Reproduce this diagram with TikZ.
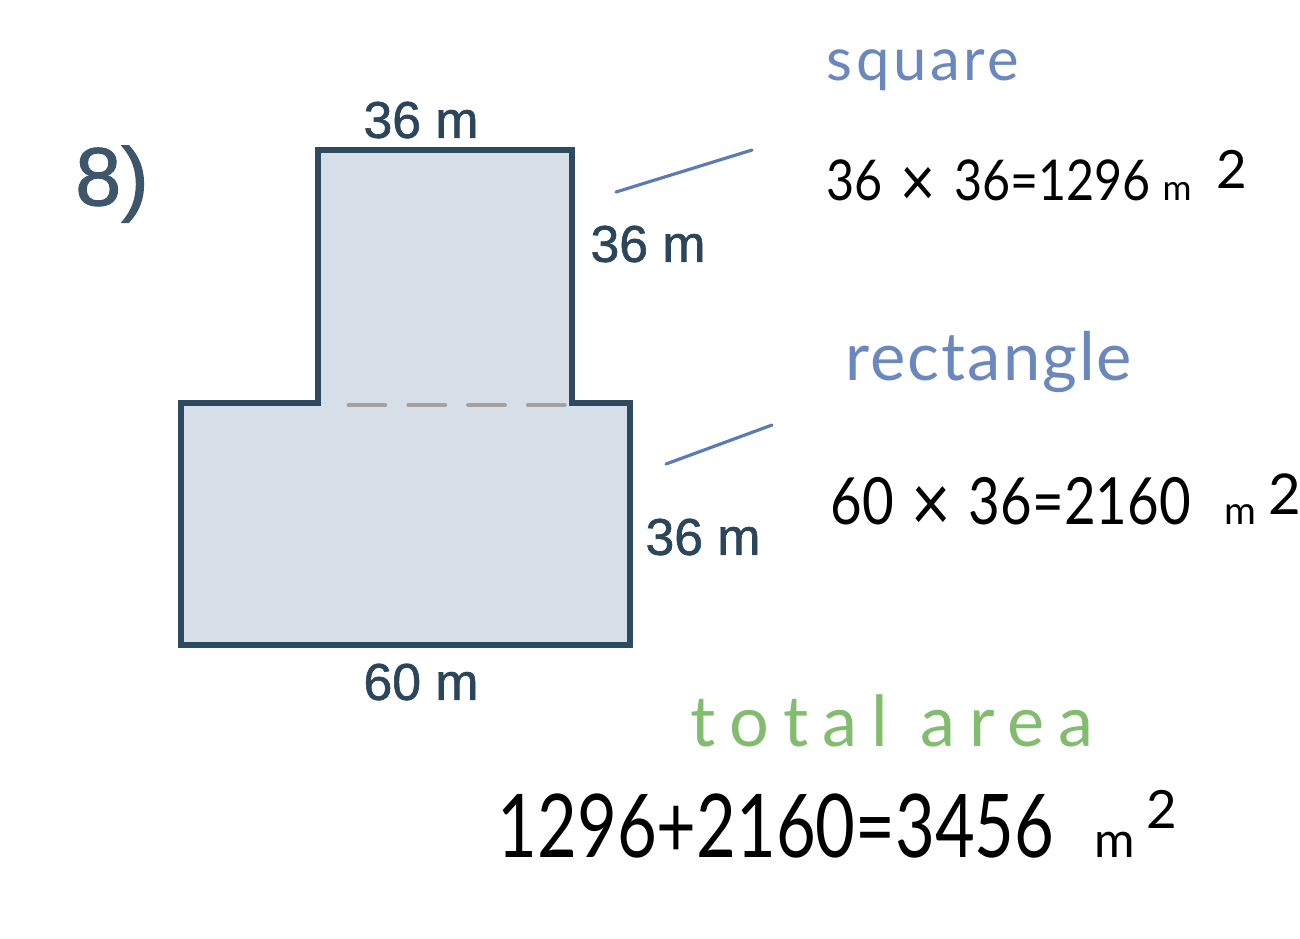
\documentclass[tikz,border=0pt]{standalone}
\usepackage{fontspec}
\setmainfont{Liberation Sans}
\newfontfamily\dimfont[FakeBold=1.2]{Liberation Sans}
\newfontfamily\hand{Lato}
\definecolor{outline}{HTML}{2E4A60}
\definecolor{shapefill}{HTML}{D6DFE7}
\definecolor{dashgray}{HTML}{A8A09E}
\definecolor{labelc}{HTML}{2B455A}
\definecolor{numc}{HTML}{3D566B}
\definecolor{pointer}{HTML}{5B7BB5}
\definecolor{bluetext}{HTML}{6B88BE}
\definecolor{greentext}{HTML}{82BC6E}
\tikzset{
  outlinestyle/.style={draw=outline, line width=1.45pt, fill=shapefill, line join=miter},
  dashline/.style={draw=dashgray, line width=1.4pt, line cap=round, dash pattern=on 10.2pt off 6.8pt},
  dimlabel/.style={text=labelc, font=\dimfont\fontsize{14.7}{16}\selectfont, inner sep=0pt},
  pointerline/.style={draw=pointer, line width=0.9pt, line cap=round},
  bluehand/.style={text=bluetext, inner sep=0pt, anchor=base west},
  greenhand/.style={text=greentext, inner sep=0pt, anchor=base west},
  eqtext/.style={text=black, inner sep=0pt, anchor=base west},
}
\begin{document}
\begin{tikzpicture}[x=0.01cm,y=-0.01cm]
\fill[white] (0,0) rectangle (1300,938);
\useasboundingbox (0,0) rectangle (1300,938);
% shape
\draw[outlinestyle] (318,150) -- (572,150) -- (572,403) -- (630,403) -- (630,645) -- (181,645) -- (181,403) -- (318,403) -- cycle;
\coordinate (dA) at (349,405);
\coordinate (dB) at (569,405);
\draw[dashline] (dA) -- (dB);
% labels
\node[text=numc, font=\dimfont\fontsize{23.5}{26}\selectfont, inner sep=0pt] (num) at (112,184) {8)};
\node[dimlabel] (ltop) at (421,120) {36 m};
\node[dimlabel] (lright1) at (648,244) {36 m};
\node[dimlabel] (lright2) at (703,537) {36 m};
\node[dimlabel] (lbottom) at (421,682) {60 m};
% pointer lines
\coordinate (p1a) at (616,192);
\coordinate (p1b) at (752,150);
\coordinate (p2a) at (666,464);
\coordinate (p2b) at (772,425);
\draw[pointerline] (p1a) -- (p1b);
\draw[pointerline] (p2a) -- (p2b);
% handwritten
\node[bluehand, font=\hand\fontsize{17}{20}\selectfont\addfontfeature{LetterSpace=6}] (sq) at (826,80) {square};
\node[eqtext, font=\hand\fontsize{16}{19}\selectfont] (eq1) at (826,200) {\scalebox{0.86}[1]{36\hspace{6pt}\raisebox{-1.8pt}{\fontsize{20}{22}\selectfont×}\hspace{6pt}36=1296}};
\node[eqtext, font=\hand\fontsize{10}{12}\selectfont] (eq1m) at (1162,200) {m};
\node[eqtext, font=\hand\fontsize{15}{18}\selectfont] (eq1s) at (1216,188) {2};
\node[bluehand, font=\hand\fontsize{19}{22}\selectfont\addfontfeature{LetterSpace=3}] (rect) at (845,380) {rectangle};
\node[eqtext, font=\hand\fontsize{18.5}{22}\selectfont] (eq2) at (830,524) {\scalebox{0.84}[1]{60\hspace{6pt}\raisebox{-2pt}{\fontsize{23}{25}\selectfont×}\hspace{6pt}36=2160}};
\node[eqtext, font=\hand\fontsize{11}{13}\selectfont] (eq2m) at (1224,524) {m};
\node[eqtext, font=\hand\fontsize{16}{19}\selectfont] (eq2s) at (1268,514) {2};
\node[greenhand, font=\hand\fontsize{20}{24}\selectfont\addfontfeature{LetterSpace=20}] (tot) at (690,746) {total area};
\node[eqtext, font=\hand\fontsize{25}{30}\selectfont] (eq3) at (497,857) {\scalebox{0.78}[1]{1296+2160=3456}};
\node[eqtext, font=\hand\fontsize{14}{17}\selectfont] (eq3m) at (1094,857) {m};
\node[eqtext, font=\hand\fontsize{15}{18}\selectfont] (eq3s) at (1146,828) {2};
\end{tikzpicture}
\end{document}
